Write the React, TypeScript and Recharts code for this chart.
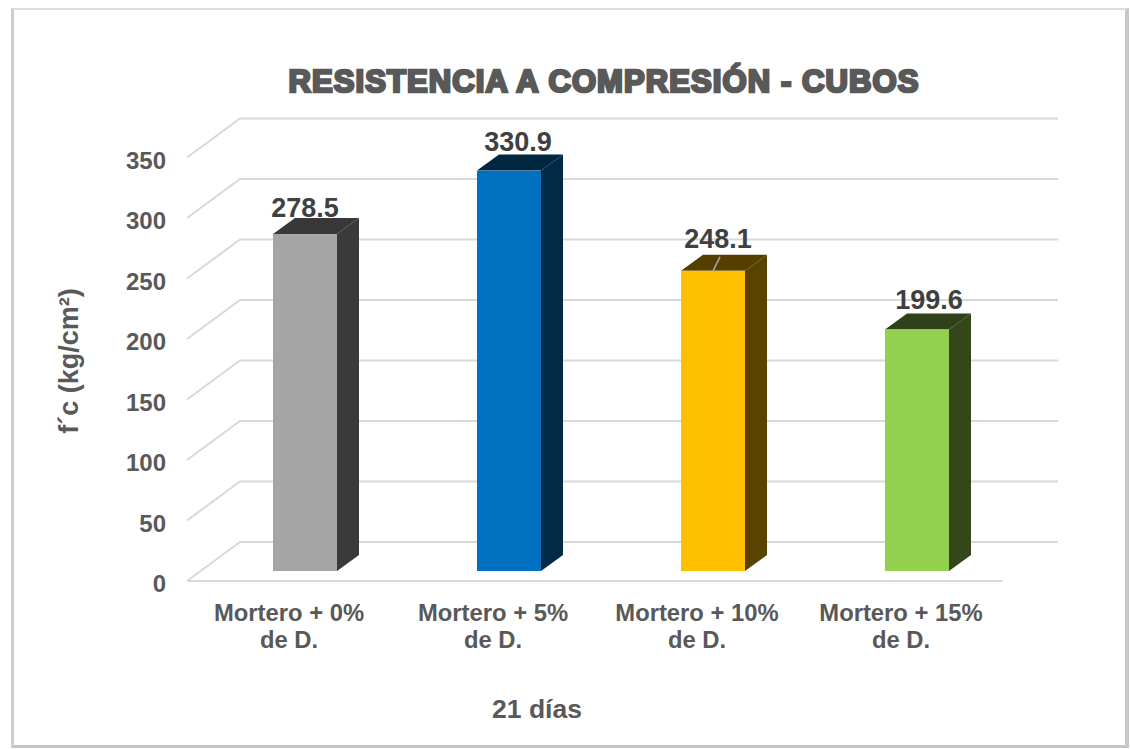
import { BarChart, Bar, XAxis, YAxis, CartesianGrid, LabelList } from "recharts";

const LINE_ONE = ["Mortero + 0%", "Mortero + 5%", "Mortero + 10%", "Mortero + 15%"];
const LINE_TWO = ["de D.", "de D.", "de D.", "de D."];
const VALUES = [278.5, 330.9, 248.1, 199.6];
const FRONT_COLORS = ["#a5a5a5", "#0070c0", "#ffc000", "#92d050"];
const SIDE_COLORS = ["#3a3a3a", "#002a45", "#584300", "#34471b"];
const TOP_COLORS = ["#383838", "#00273f", "#543f00", "#2f4118"];
const Y_TICKS = [0, 50, 100, 150, 200, 250, 300, 350];
// the labels in the picture sit off centre, each by its own amount
const LABEL_SHIFT_X = [0, 9, 5, 12];
const LABEL_SHIFT_Y = [-26, -29, -32, -29];

const data = LINE_ONE.map((name, i) => ({ name, line2: LINE_TWO[i], value: VALUES[i] }));

const FONT = "'Liberation Sans', Arial, sans-serif";
const TEXT = "#595959";
const GRID = "#d9d9d9";
const DX = 22;
const DY = 16;

function Box(props: any) {
  const { x, y, width, height, index } = props;
  const r = x + width;
  const b = y + height;
  return (
    <g>
      <polygon points={`${x},${y} ${x + DX},${y - DY} ${r + DX},${y - DY} ${r},${y}`} fill={TOP_COLORS[index]} />
      <polygon points={`${r},${y} ${r + DX},${y - DY} ${r + DX},${b - DY} ${r},${b}`} fill={SIDE_COLORS[index]} />
      <rect x={x} y={y} width={width} height={height} fill={FRONT_COLORS[index]} />
    </g>
  );
}

function GridLine(props: any) {
  const { x1, x2, y1, index } = props;
  return (
    <g key={index}>
      <polyline
        points={`${x1 - 16},${y1 + 10} ${x1 + 37},${y1 - 29} ${x2 + 39},${y1 - 29}`}
        fill="none"
        stroke={GRID}
        strokeWidth={2}
      />
      {y1 > 570 && <line x1={x1 - 16} y1={y1 + 10} x2={x2 - 16} y2={y1 + 10} stroke={GRID} strokeWidth={2} />}
    </g>
  );
}

function YTick(props: any) {
  const { y, payload } = props;
  return (
    <text x={166} y={y + 21} textAnchor="end" fontFamily={FONT} fontSize={24} fontWeight={700} fill={TEXT}>
      {payload.value}
    </text>
  );
}

function XTick(props: any) {
  const { x, index } = props;
  return (
    <text textAnchor="middle" fontFamily={FONT} fontSize={23.8} fontWeight={700} fill={TEXT}>
      <tspan x={x - 16} y={621}>{LINE_ONE[index]}</tspan>
      <tspan x={x - 16} y={648}>{LINE_TWO[index]}</tspan>
    </text>
  );
}

function ValueLabel(props: any) {
  const { x, y, width, value, index } = props;
  const cx = x + width / 2;
  return (
    <g>
      {index === 2 && <line x1={cx} y1={y} x2={cx + 7} y2={y - 14} stroke="#a6a6a6" strokeWidth={1.5} />}
      <text
        x={cx + LABEL_SHIFT_X[index]}
        y={y + LABEL_SHIFT_Y[index] + 9}
        textAnchor="middle"
        fontFamily={FONT}
        fontSize={27}
        fontWeight={700}
        fill="#404040"
      >
        {value}
      </text>
    </g>
  );
}

export default function App() {
  return (
    <div style={{ position: "absolute", left: 0, top: 0, width: 1130, height: 749, background: "#fff", overflow: "hidden" }}>
      <div
        style={{
          position: "absolute",
          left: 11,
          top: 8,
          width: 1111,
          height: 735,
          borderTop: "2px solid #dcdcdc",
          borderLeft: "3px solid #cfcfcf",
          borderRight: "4px solid #c8c8c8",
          borderBottom: "3px solid #c4c4c4",
        }}
      />
      <div style={{ position: "absolute", left: 0, top: 0 }}>
        <BarChart
          width={1130}
          height={749}
          data={data}
          margin={{ top: 147.5, right: 111, bottom: 108, left: 143 }}
        >
          <CartesianGrid horizontal={GridLine} vertical={false} />
          <XAxis dataKey="name" axisLine={false} tickLine={false} tick={XTick} height={70} interval={0} />
          <YAxis domain={[0, 350]} ticks={Y_TICKS} axisLine={false} tickLine={false} tick={YTick} width={60} />
          <Bar dataKey="value" barSize={64} shape={Box} isAnimationActive={false}>
            <LabelList dataKey="value" content={ValueLabel} />
          </Bar>
          <text
            x={604}
            y={92}
            textAnchor="middle"
            fontFamily={FONT}
            fontSize={31}
            fontWeight={700}
            letterSpacing={1.1}
            fill={TEXT}
            stroke={TEXT}
            strokeWidth={2.6}
          >
            RESISTENCIA A COMPRESIÓN - CUBOS
          </text>
          <text
            transform="translate(78,361) rotate(-90)"
            textAnchor="middle"
            fontFamily={FONT}
            fontSize={27}
            fontWeight={700}
            fill={TEXT}
          >
            f´c (kg/cm²)
          </text>
          <text x={537} y={718} textAnchor="middle" fontFamily={FONT} fontSize={26.5} fontWeight={700} fill={TEXT}>
            21 días
          </text>
        </BarChart>
      </div>
    </div>
  );
}
